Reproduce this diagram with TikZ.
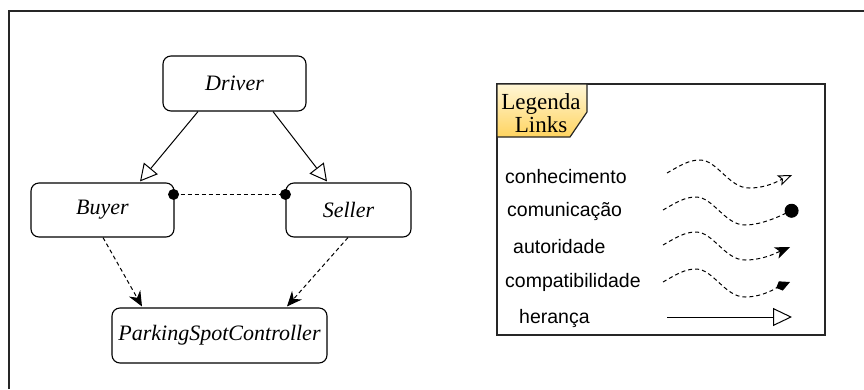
\documentclass[tikz,border=0pt]{standalone}
\usepackage{fontspec}
\setmainfont{Liberation Serif}
\newfontfamily\legfont{Liberation Sans}
\usetikzlibrary{arrows.meta,calc}

\tikzset{
  cls/.style={draw, line width=1.1pt, rounded corners=8pt, fill=white, inner sep=0pt,
    font=\fontsize{22}{26}\selectfont\itshape},
  inherit/.style={line width=1pt, -{Triangle[open, length=17pt, width=18pt, fill=white]}},
  depend/.style={line width=1pt, dash pattern=on 4pt off 3pt,
    -{Stealth[length=15pt, width=13pt, inset=5pt]}},
  comm/.style={line width=1pt, dash pattern=on 4pt off 3pt},
  leglabel/.style={anchor=west, inner sep=0pt, font=\legfont\fontsize{19.5}{22}\selectfont},
  wave/.style={line width=1pt, dash pattern=on 4pt off 3pt}
}

% dashed wave sample used in the legend: #1 start x, #2 start y, #3 end x, #4 end y, #5 options
\newcommand\legwave[5]{%
  \draw[wave,#5] (#1,#2) .. controls (#1+14,#2-8) and (#1+22,#2-13) .. (#1+33,#2-13)
    .. controls (#1+50,#2-13) and (#1+62,#2+15) .. (#1+82,#2+15)
    .. controls (#1+100,#2+15) and (#3-14,#4+6) .. (#3,#4);}

\begin{document}
\begin{tikzpicture}[x=1pt, y=-1pt]
  \useasboundingbox (0,0) rectangle (864,389);

  % outer frame (left and top edges)
  \draw[line width=2pt, black!85] (9,389) -- (9,11) -- (864,11);

  % classes
  \node[cls, minimum width=143pt, minimum height=55pt] (driver) at (234.5,83.5) {Driver};
  \node[cls, minimum width=143pt, minimum height=54pt] (buyer) at (102.5,210) {Buyer};
  \node[cls, minimum width=125pt, minimum height=54pt] (seller) at (348.5,210) {Seller};
  \node[cls, minimum width=215pt, minimum height=55pt] (psc) at (219.5,335.5) {ParkingSpotController};

  % inheritance
  \draw[inherit] ($(driver.south)+(-36.5,0)$) -- ($(buyer.north)+(37.5,-1)$);
  \draw[inherit] ($(driver.south)+(38.5,0)$) -- ($(seller.north)+(-21.5,-1)$);

  % communication between Buyer and Seller
  \coordinate (bc) at ($(buyer.north east)+(-1,12)$);
  \coordinate (sc) at ($(seller.north west)+(0,12)$);
  \draw[comm] (bc) -- (sc);
  \fill (bc) circle (5.5pt);
  \fill (sc) circle (5.5pt);

  % dependencies on the controller
  \draw[depend] ($(buyer.south)+(0.5,0)$) -- ($(psc.north)+(-77.5,-1)$);
  \draw[depend] ($(seller.south)+(-0.5,0)$) -- ($(psc.north)+(67.5,-1)$);

  % legend box
  \draw[line width=1.2pt, black!85] (497,84) rectangle (825,335);
  \shade[top color={rgb,255:red,255;green,246;blue,214}, bottom color={rgb,255:red,255;green,212;blue,96}]
    (497,84) -- (587,84) -- (587,112) -- (570,137) -- (497,137) -- cycle;
  \draw[line width=1.2pt, black!85]
    (497,84) -- (587,84) -- (587,112) -- (570,137) -- (497,137) -- cycle;
  \node[align=center, inner sep=0pt, font=\fontsize{23}{23}\selectfont] (legtitle) at (541,113) {Legenda\\ Links};

  \node[leglabel] (l1) at (505,177) {conhecimento};
  \node[leglabel] (l2) at (507,211) {comunicação};
  \node[leglabel] (l3) at (513,247) {autoridade};
  \node[leglabel] (l4) at (505,282) {compatibilidade};
  \node[leglabel] (l5) at (519,318) {herança};

  \legwave{667}{173}{792}{175}{-{Stealth[open, length=14pt, width=11pt, inset=3pt]}}
  \legwave{663}{210}{798}{208}{-{Circle[length=14pt]}}
  \legwave{663}{245}{790}{247}{-{Stealth[length=15pt, width=12pt, inset=4pt]}}
  \legwave{663}{282}{790}{282}{-{Kite[length=15pt, width=10pt, inset=5pt]}}
  \draw[line width=1pt, -{Triangle[open, length=19pt, width=18pt, fill=white]}] (667,317) -- (792,317);
\end{tikzpicture}
\end{document}
